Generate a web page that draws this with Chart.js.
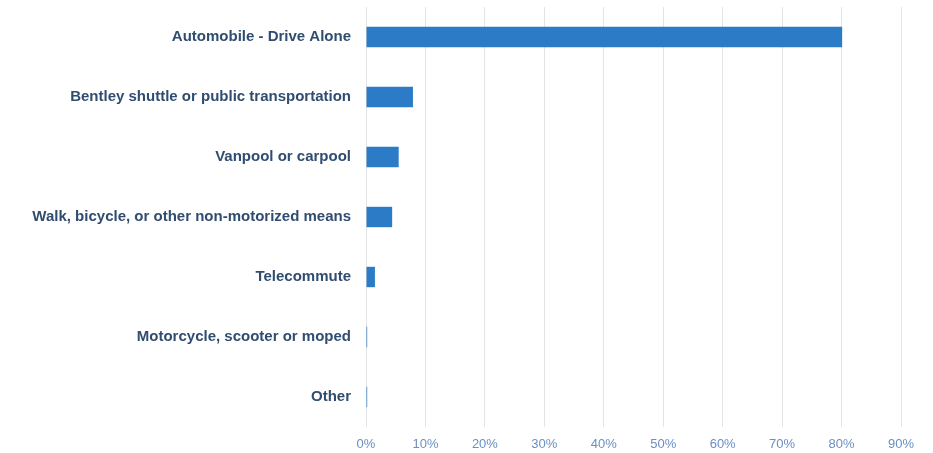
<!DOCTYPE html>
<html>
<head>
<meta charset="utf-8">
<script src="https://cdn.jsdelivr.net/npm/chart.js@4/dist/chart.umd.min.js"></script>
<style>
  html, body { margin: 0; padding: 0; background: #fff; }
  #wrap { width: 933px; height: 453px; }
</style>
</head>
<body>
<div id="wrap"><canvas id="commuteChart"></canvas></div>
<script>
"use strict";

// commute modes, top to bottom
const categories = [
    "Automobile - Drive Alone",
    "Bentley shuttle or public transportation",
    "Vanpool or carpool",
    "Walk, bicycle, or other non-motorized means",
    "Telecommute",
    "Motorcycle, scooter or moped",
    "Other"
];
// share of respondents, in percent
const shares = [80.1, 7.9, 5.5, 4.4, 1.5, 0.2, 0.2];
// x axis ticks
const tickValues = [0, 10, 20, 30, 40, 50, 60, 70, 80, 90];

new Chart(document.getElementById("commuteChart"), {
    type: "bar",
    data: {
        labels: categories,
        datasets: [{
            label: "Share",
            data: shares,
            backgroundColor: "#2b7bc6",
            categoryPercentage: 1,
            barPercentage: 0.34
        }]
    },
    options: {
        indexAxis: "y",
        responsive: true,
        maintainAspectRatio: false,
        animation: false,
        layout: { padding: { left: 0, right: 32, top: 7, bottom: 0 } },
        plugins: {
            legend: { display: false },
            tooltip: { enabled: false }
        },
        scales: {
            x: {
                min: 0,
                max: 90,
                afterBuildTicks: scale => { scale.ticks = tickValues.map(v => ({ value: v })) },
                afterFit: scale => { scale.height = 26 },
                border: { display: false },
                grid: { color: "#e4e4e4", drawTicks: false },
                ticks: {
                    padding: 10,
                    color: "#6a8fc4",
                    font: { family: "Liberation Sans", size: 13 },
                    callback: v => v + "%"
                }
            },
            y: {
                afterFit: scale => {
                    scale.width = 366
                    // no extra room for the first/last label
                    scale.paddingTop = 0
                    scale.paddingBottom = 0
                },
                border: { display: false },
                grid: { display: false, drawTicks: false },
                ticks: {
                    padding: 15,
                    color: "#304d70",
                    font: { family: "Liberation Sans", size: 15, weight: "bold" }
                }
            }
        }
    }
});
</script>
</body>
</html>
